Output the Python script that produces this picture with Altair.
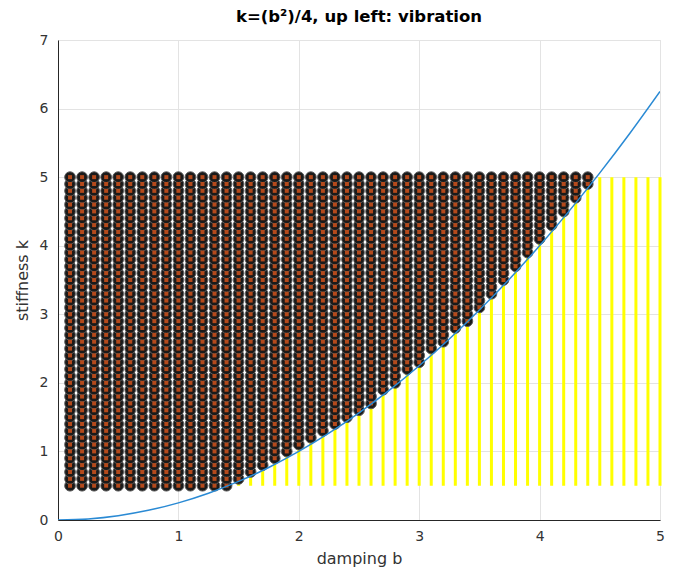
import altair as alt
import pandas as pd

# grid of damping values (columns) and stiffness values (rows)
b_values = [0.1, 0.2, 0.3, 0.4, 0.5, 0.6, 0.7, 0.8, 0.9, 1.0,
            1.1, 1.2, 1.3, 1.4, 1.5, 1.6, 1.7, 1.8, 1.9, 2.0,
            2.1, 2.2, 2.3, 2.4, 2.5, 2.6, 2.7, 2.8, 2.9, 3.0,
            3.1, 3.2, 3.3, 3.4, 3.5, 3.6, 3.7, 3.8, 3.9, 4.0,
            4.1, 4.2, 4.3, 4.4, 4.5, 4.6, 4.7, 4.8, 4.9, 5.0]
k_values = [0.5, 0.6, 0.7, 0.8, 0.9, 1.0, 1.1, 1.2, 1.3, 1.4,
            1.5, 1.6, 1.7, 1.8, 1.9, 2.0, 2.1, 2.2, 2.3, 2.4,
            2.5, 2.6, 2.7, 2.8, 2.9, 3.0, 3.1, 3.2, 3.3, 3.4,
            3.5, 3.6, 3.7, 3.8, 3.9, 4.0, 4.1, 4.2, 4.3, 4.4,
            4.5, 4.6, 4.7, 4.8, 4.9, 5.0]

# boundary curve k = b^2/4
curve_b = [0, 0.25, 0.5, 0.75, 1.0, 1.25, 1.5, 1.75, 2.0, 2.25, 2.5,
           2.75, 3.0, 3.25, 3.5, 3.75, 4.0, 4.25, 4.5, 4.75, 5.0]
curve_k = [0, 0.015625, 0.0625, 0.140625, 0.25, 0.390625, 0.5625, 0.765625,
           1.0, 1.265625, 1.5625, 1.890625, 2.25, 2.640625, 3.0625, 3.515625,
           4.0, 4.515625, 5.0625, 5.640625, 6.25]

x_ticks = [0, 1, 2, 3, 4, 5]
y_ticks = [0, 1, 2, 3, 4, 5, 6, 7]

rows = []
for b in b_values:
    for k in k_values:
        rows.append({"b": b, "k": k, "vib": k > b * b / 4})
grid = pd.DataFrame(rows)
vib = grid[grid["vib"]]

cols = pd.DataFrame({"b": b_values, "k0": [min(k_values)] * len(b_values),
                     "k1": [max(k_values)] * len(b_values)})
curve = pd.DataFrame({"b": curve_b, "k": curve_k})

FONT = "DejaVu Sans"
xscale = alt.Scale(domain=[0, 5], nice=False, zero=False)
yscale = alt.Scale(domain=[0, 7], nice=False, zero=False)

xaxis = alt.Axis(values=x_ticks, format="d", title="damping b", grid=True, gridColor="#e3e3e3",
                 tickSize=0, labelPadding=9, labelFontSize=14, titleFontSize=16,
                 labelFlush=False, labelOverlap=False,
                 titleFontWeight="normal", labelColor="#333333", titleColor="#333333",
                 domainColor="#262626", labelFont=FONT, titleFont=FONT, titlePadding=7)
yaxis = alt.Axis(values=y_ticks, format="d", title="stiffness k", grid=True, gridColor="#e3e3e3",
                 tickSize=0, labelPadding=10, labelFontSize=14, titleFontSize=16,
                 labelFlush=False, labelOverlap=False,
                 titleFontWeight="normal", labelColor="#333333", titleColor="#333333",
                 domainColor="#262626", labelFont=FONT, titleFont=FONT, titlePadding=9)

yellow = alt.Chart(cols).mark_rule(color="#ffff00", strokeWidth=3).encode(
    x=alt.X("b:Q", scale=xscale, axis=xaxis),
    y=alt.Y("k0:Q", scale=yscale, axis=yaxis),
    y2="k1:Q",
)

circles = alt.Chart(vib).mark_point(
    shape="circle", filled=True, fill="#1a1a1a", stroke="#5c5c5c", strokeWidth=1,
    size=115, opacity=1,
).encode(x=alt.X("b:Q", scale=xscale), y=alt.Y("k:Q", scale=yscale))

inner = alt.Chart(vib).mark_point(
    shape="square", filled=True, fill="#b44a1c", size=16, opacity=1, strokeWidth=0,
).encode(x=alt.X("b:Q", scale=xscale), y=alt.Y("k:Q", scale=yscale))

line = alt.Chart(curve).mark_line(color="#2a8ad4", strokeWidth=1.5,
                                  interpolate="monotone", clip=True).encode(
    x=alt.X("b:Q", scale=xscale), y=alt.Y("k:Q", scale=yscale))

chart = alt.layer(yellow, circles, inner, line).properties(
    width=602, height=480,
    title=alt.TitleParams("k=(b²)/4, up left: vibration", fontSize=16.5, font=FONT,
                          fontWeight="bold", color="#000000", offset=8),
    autosize=alt.AutoSizeParams(type="none"),
    padding={"left": 50, "top": 32, "right": 5, "bottom": 50},
).configure_view(stroke="#262626", strokeWidth=1).configure(background="white")

chart.save("out.html", embed_options={"renderer": "svg", "actions": False})
